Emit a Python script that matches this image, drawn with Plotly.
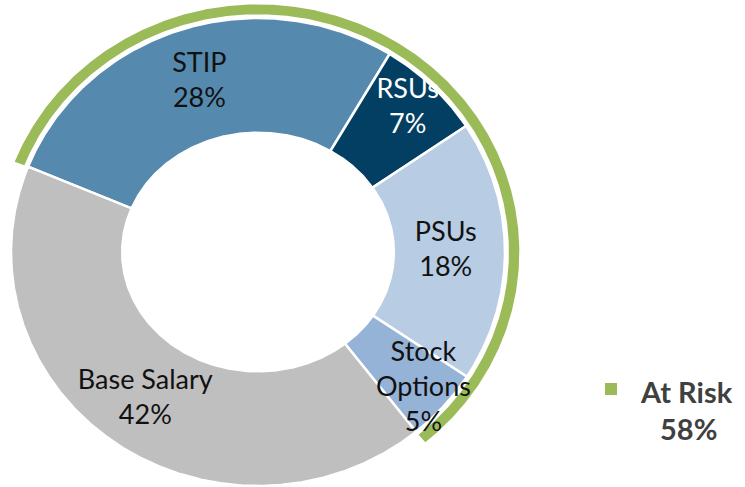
import numpy as np
import plotly.graph_objects as go

categories = ["STIP", "RSUs", "PSUs", "Stock<br>Options", "Base Salary"]
shares = [28, 7, 18, 5, 42]
at_risk = ["STIP", "RSUs", "PSUs", "Stock<br>Options"]

colors = ["#5589AE", "#023F62", "#B8CCE4", "#95B3D7", "#BFBFBF"]
text_colors = ["#111111", "#FFFFFF", "#111111", "#111111", "#111111"]
green = "#9BBB59"

# geometry of the (horizontally stretched) doughnut, in pixels
cx, cy = 258, 252
rx, ry = 247, 234
hole = (0.55, 0.51)
ring = ((1.016, 1.016), (1.058, 1.058))
start = 291.4  # degrees, clockwise from 12 o'clock
label_r = {"RSUs": 0.86, "Stock<br>Options": 0.89, "Base Salary": 0.78}


def arc(a0, a1, fx, fy):
    t = np.radians(np.linspace(a0, a1, max(int(abs(a1 - a0) * 3), 2)))
    return cx + rx * fx * np.sin(t), cy - ry * fy * np.cos(t)


def band(a0, a1, inner, outer):
    xo, yo = arc(a0, a1, *outer)
    xi, yi = arc(a1, a0, *inner)
    return np.r_[xo, xi, xo[:1]], np.r_[yo, yi, yo[:1]]


fig = go.Figure()

total = sum(shares)
angles = start + np.r_[0, np.cumsum(shares)] / total * 360

# green "at risk" ring
risk = sum(s for c, s in zip(categories, shares) if c in at_risk)
x, y = band(start, start + risk / total * 360, *ring)
fig.add_trace(go.Scatter(x=x, y=y, fill="toself", fillcolor=green, mode="lines",
                         line=dict(width=0, color=green), hoverinfo="skip", showlegend=False))

lx, ly, lt = [], [], []
for cat, s, col, a0, a1 in zip(categories, shares, colors, angles[:-1], angles[1:]):
    x, y = band(a0, a1, hole, (1, 1))
    fig.add_trace(go.Scatter(x=x, y=y, fill="toself", fillcolor=col, mode="lines",
                             line=dict(width=2.5, color="white"), name=cat.replace("<br>", " "),
                             hoverinfo="name", showlegend=False))
    m = np.radians((a0 + a1) / 2)
    r = label_r.get(cat, 0.76)
    lx.append(cx + rx * r * np.sin(m))
    ly.append(cy - ry * r * np.cos(m))
    lt.append(f"{cat}<br>{s}%")

fig.add_trace(go.Scatter(x=lx, y=ly, text=lt, mode="text", hoverinfo="skip", showlegend=False,
                         textfont=dict(family="Lato", size=27, color=text_colors)))

# "legend"
legend_font = dict(family="Lato", size=29, color="#404040")
fig.add_shape(type="rect", xref="x", yref="y", x0=605, x1=617, y0=383, y1=395,
              fillcolor=green, line_width=0)
fig.add_annotation(x=638, y=391, xanchor="left", text="<b>At Risk</b>",
                   showarrow=False, font=legend_font)
fig.add_annotation(x=688, y=428, text=f"<b>{risk}%</b>", showarrow=False, font=legend_font)

fig.update_xaxes(range=[0, 745], visible=False)
fig.update_yaxes(range=[487, 0], visible=False)
fig.update_layout(
    width=745, height=487,
    margin=dict(l=0, r=0, t=0, b=0),
    plot_bgcolor="white", paper_bgcolor="white",
    showlegend=False,
)

fig.write_html("out.html", config={"displayModeBar": False},
               post_script="document.body.style.margin = '0';")
